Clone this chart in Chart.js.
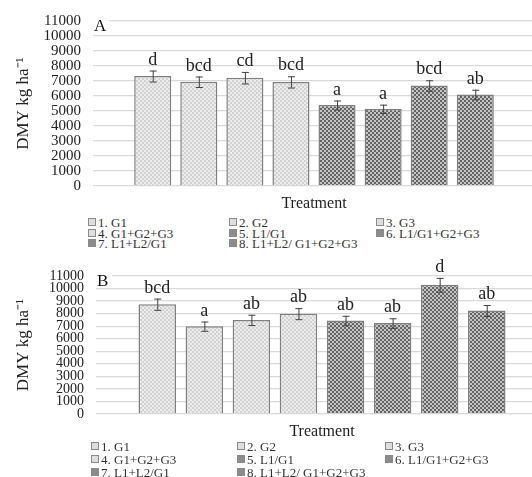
<!DOCTYPE html>
<html>
<head>
<meta charset="utf-8">
<script src="https://cdn.jsdelivr.net/npm/chart.js@4.4.1/dist/chart.umd.min.js"></script>
<style>
  html, body { margin: 0; padding: 0; background: #fff; }
  body { width: 532px; height: 477px; overflow: hidden; position: relative; }
  canvas { position: absolute; left: 0; }
  #cA { top: 0; }
  #cB { top: 255px; }
  .legend { position: absolute; left: 0; width: 532px; font-family: "Liberation Serif", "Times New Roman", serif; font-size: 13px; color: #333; }
  .item { position: absolute; white-space: nowrap; line-height: 13px; }
  .box { display: inline-block; width: 6px; height: 6px; border: 1px solid #8a8a8a; margin-right: 2px; vertical-align: 1px; }
  .light { background: #dedede; }
  .dark { background: #8c8c8c; }
</style>
</head>
<body>
<canvas id="cA" width="535" height="215"></canvas>
<canvas id="cB" width="548" height="188"></canvas>
<div class="legend" id="legA"></div>
<div class="legend" id="legB"></div>
<script>
// ---- data ----
const treatments = ["1. G1", "2. G2", "3. G3", "4. G1+G2+G3", "5. L1/G1", "6. L1/G1+G2+G3", "7. L1+L2/G1", "8. L1+L2/ G1+G2+G3"];
const dmyA = [7330, 6950, 7220, 6940, 5400, 5150, 6700, 6100];
const errA = [365, 350, 385, 375, 300, 275, 350, 320];
const lettersA = ["d", "bcd", "cd", "bcd", "a", "a", "bcd", "ab"];
const dmyB = [8750, 7000, 7500, 8000, 7450, 7250, 10300, 8250];
const errB = [450, 370, 410, 440, 380, 380, 550, 440];
const lettersB = ["bcd", "a", "ab", "ab", "ab", "ab", "d", "ab"];
const yMax = 11000;
const yStep = 1000;
const xTitle = "Treatment";
const yTitle = "DMY kg ha\u207B\u00B9";
const panelLabels = ["A", "B"];

const SERIF = '"Liberation Serif", "Times New Roman", serif';

function makePattern(c1, c2) {
  const p = document.createElement('canvas');
  p.width = 4; p.height = 4;
  const g = p.getContext('2d');
  g.fillStyle = c1; g.fillRect(0, 0, 4, 4);
  g.fillStyle = c2; g.fillRect(0, 0, 2, 2); g.fillRect(2, 2, 2, 2);
  return document.createElement('canvas').getContext('2d').createPattern(p, 'repeat');
}
const lightPat = makePattern('#ececec', '#d2d2d2');
const darkPat = makePattern('#c4c4c4', '#646464');

function buildDatasets(values) {
  return treatments.map((t, i) => ({
    label: t,
    data: [values[i]],
    backgroundColor: i < 4 ? lightPat : darkPat,
    borderColor: '#7f7f7f',
    borderWidth: 1.5,
    borderSkipped: 'bottom'
  }));
}

const errPlugin = {
  id: 'errPlugin',
  afterDatasetsDraw(chart, args, opts) {
    const ctx = chart.ctx;
    const ys = chart.scales.y;
    ctx.save();
    chart.data.datasets.forEach((ds, i) => {
      const bar = chart.getDatasetMeta(i).data[0];
      const v = ds.data[0];
      const e = opts.errors[i];
      const x = bar.x;
      const yt = ys.getPixelForValue(v + e);
      const yb = ys.getPixelForValue(v - e);
      ctx.strokeStyle = '#404040';
      ctx.lineWidth = 1;
      ctx.beginPath();
      ctx.moveTo(x + 0.5, yt); ctx.lineTo(x + 0.5, yb);
      ctx.moveTo(x - 3, yt + 0.5); ctx.lineTo(x + 4, yt + 0.5);
      ctx.moveTo(x - 3, yb + 0.5); ctx.lineTo(x + 4, yb + 0.5);
      ctx.stroke();
      ctx.fillStyle = '#222';
      ctx.font = '18px ' + SERIF;
      ctx.textAlign = 'center';
      ctx.textBaseline = 'alphabetic';
      ctx.fillText(opts.letters[i], x, yt - 6);
    });
    // panel label
    const ca = chart.chartArea;
    ctx.fillStyle = '#fff';
    ctx.fillRect(ca.left - 1, ca.top - 3, 17, 8);
    ctx.fillStyle = '#111';
    ctx.font = '17px ' + SERIF;
    ctx.textAlign = 'left';
    ctx.textBaseline = 'alphabetic';
    ctx.fillText(opts.panel, ca.left + 1, ca.top + 10);
    ctx.restore();
  }
};

function makeChart(id, values, errs, letters, panel, tickSize, leftW, catPct, barPct) {
  return new Chart(document.getElementById(id), {
    type: 'bar',
    data: { labels: [''], datasets: buildDatasets(values) },
    options: {
      responsive: false,
      devicePixelRatio: 1,
      animation: false,
      layout: { padding: { top: panel === 'A' ? 20 : 21, right: 0, left: 0, bottom: 0 } },
      datasets: { bar: { categoryPercentage: catPct, barPercentage: barPct } },
      plugins: {
        legend: { display: false },
        tooltip: { enabled: false },
        errPlugin: { errors: errs, letters: letters, panel: panel }
      },
      scales: {
        x: {
          grid: { display: false },
          border: { display: false },
          ticks: { display: false },
          title: { display: true, text: xTitle, color: '#222', font: { family: SERIF, size: 16 }, padding: { top: 0, bottom: 2 } },
          afterFit(s) { s.height = 29; }
        },
        y: {
          min: 0, max: yMax,
          ticks: { stepSize: yStep, autoSkip: false, color: '#222', padding: 12, font: { family: SERIF, size: tickSize }, callback: v => String(v) },
          grid: { color: '#d9d9d9', lineWidth: 1.3, drawTicks: false },
          border: { display: false },
          title: { display: true, text: yTitle, color: '#222', font: { family: SERIF, size: 17 }, padding: { top: 13, bottom: 0 } },
          afterFit(s) { s.width = leftW; }
        }
      }
    },
    plugins: [errPlugin]
  });
}

makeChart('cA', dmyA, errA, lettersA, panelLabels[0], 15, 93, 0.834, 0.804);
makeChart('cB', dmyB, errB, lettersB, panelLabels[1], 14, 96, 0.833, 0.797);

function buildLegend(id, top, rowGap, cols) {
  const el = document.getElementById(id);
  el.style.top = top + 'px';
  treatments.forEach((t, i) => {
    const d = document.createElement('div');
    d.className = 'item';
    d.style.left = cols[i % 3] + 'px';
    d.style.top = (Math.floor(i / 3) * rowGap) + 'px';
    const b = document.createElement('span');
    b.className = 'box ' + (i < 4 ? 'light' : 'dark');
    d.appendChild(b);
    d.appendChild(document.createTextNode(t));
    el.appendChild(d);
  });
}
buildLegend('legA', 216, 10.5, [88, 229, 376]);
buildLegend('legB', 440, 13, [91, 237, 385]);
</script>
</body>
</html>
